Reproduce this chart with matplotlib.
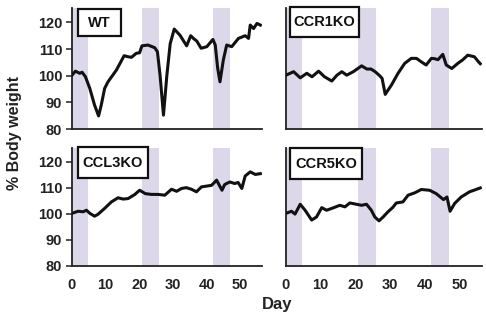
import matplotlib
matplotlib.use("Agg")
import matplotlib.pyplot as plt
from matplotlib.patches import Rectangle

plt.rcParams['font.family'] = ['Liberation Sans', 'DejaVu Sans']
plt.rcParams['font.weight'] = 'bold'

# body weight curves
wt_day = [0, 1, 2.3, 3, 4, 5.3, 6.7, 7.9, 8.7, 9.7, 10.7, 13.2, 15.5, 16.7, 17.7, 19.1,
          20.1, 20.8, 22.6, 24.6, 25.4, 26.2, 27.2, 28.2, 29.2, 30.4, 32.1, 34.1, 35.3,
          36.1, 37.1, 38.4, 40.1, 41.9, 42.6, 43.3, 44, 45, 46, 47.5, 49.5, 51.5, 52.5,
          53, 54, 55, 56]
wt_val = [100.2, 101.7, 100.9, 101.3, 99.6, 95.2, 89, 84.9, 89, 95.2, 97.7, 102.1, 107.5,
          107.1, 106.9, 108.4, 108.6, 111.2, 111.5, 110.5, 109, 100, 85.2, 100, 112, 117.5,
          115.2, 111.2, 115, 114, 113, 110.3, 110.9, 113.6, 111.5, 103, 97.7, 105.9, 111.5,
          110.9, 114, 115, 114, 119, 117.7, 119.6, 119]

ccr1_day = [0, 2.2, 4.1, 6, 7.5, 9.4, 11.1, 13.2, 14.7, 16.1, 17.5, 19.4, 21.8, 23.3, 24.5,
            25.7, 27, 27.7, 28.6, 30.4, 32.3, 34.2, 36.1, 37.6, 39, 40.4, 41.9, 42.8, 43.8,
            45.2, 46.2, 47.8, 49.5, 50.9, 52.4, 54.3, 55.5, 56]
ccr1_val = [100.2, 101.5, 99.2, 100.9, 99.6, 101.7, 99.6, 98, 100.2, 101.5, 100.2, 101.5,
            103.7, 102.5, 102.5, 101.5, 100, 99, 93, 96.5, 100.9, 104.6, 106.5, 106.5, 105.2,
            104, 106.5, 106.4, 106, 108, 104, 102.7, 104.6, 105.9, 107.7, 107.1, 105.2, 104.5]

ccl3_day = [0, 1.8, 3.3, 4.3, 5.3, 6.7, 7.7, 9.7, 11.7, 13.7, 15.2, 16.7, 18.7, 20.1, 21.8,
            23.6, 25.6, 27.6, 29.6, 31.1, 32.6, 34, 35.5, 37, 38.5, 40.5, 41.5, 43, 44.6,
            45.4, 46.9, 48.4, 49.4, 50.5, 51.5, 53, 54.5, 56]
ccl3_val = [100.2, 101, 100.8, 101.4, 100.2, 99.1, 99.8, 102.1, 104.6, 106.2, 105.7, 105.9,
            107.5, 109.1, 107.8, 107.5, 107.5, 107.2, 109.5, 108.7, 109.8, 110.1, 109.5,
            108.5, 110.4, 110.8, 111, 113, 109.1, 111.3, 112.3, 111.7, 112.1, 109.8, 114.6,
            116.2, 115.2, 115.5]

ccr5_day = [0, 1.6, 2.6, 4.1, 5.5, 7.4, 8.8, 10.3, 11.7, 13.6, 15.5, 17, 18.4, 20.3, 21.8,
            23.2, 24.6, 25.6, 26.8, 28, 29.4, 30.8, 31.8, 33.7, 35.2, 37.1, 39, 41.4, 43.3,
            45.4, 46.4, 47.3, 48.6, 50.5, 52.9, 54.8, 56]
ccr5_val = [100.2, 101, 99.9, 103.7, 101.4, 97.6, 98.8, 102.4, 101.4, 102.3, 103.3, 102.7,
            104.2, 103.7, 103.3, 103.7, 101.4, 98.8, 97.3, 98.8, 100.8, 102.5, 104.2, 104.6,
            107.2, 108.1, 109.4, 109.1, 107.8, 105.5, 106.5, 101, 104, 106.5, 108.5, 109.4,
            110]

groups = ['WT', 'CCR1KO', 'CCL3KO', 'CCR5KO']
days = [wt_day, ccr1_day, ccl3_day, ccr5_day]
vals = [wt_val, ccr1_val, ccl3_val, ccr5_val]

# shaded treatment windows (days)
windows = [(0, 4.7), (20.8, 25.9), (41.8, 47)]

W, H = 486, 325
fig = plt.figure(figsize=(W / 100, H / 100), dpi=100)
lefts = [72, 286]
widths = [190, 196]
bottoms = [129, 265.7]   # pixel row of the x axis
tops = [8, 148]

# label boxes: left, top, width, height in pixels
boxes = [(78, 9, 43, 27), (290, 7, 69, 30), (78, 147, 70, 31), (290, 148, 72, 31)]

for i, name in enumerate(groups):
    r, c = divmod(i, 2)
    ax = fig.add_axes([lefts[c] / W, 1 - bottoms[r] / H, widths[c] / W,
                       (bottoms[r] - tops[r]) / H])
    for a, b in windows:
        ax.axvspan(a, b, color='#ddd8e9', lw=0, zorder=0)
    ax.plot(days[i], vals[i], color='#111111', lw=2.2, solid_joinstyle='round', zorder=3)
    ax.set_xlim(0, 56.5)
    ax.set_ylim(80, 125.4)
    ax.set_yticks([80, 90, 100, 110, 120])
    ax.set_xticks([0, 10, 20, 30, 40, 50])
    for s in ['top', 'right']:
        ax.spines[s].set_visible(False)
    for s in ['left', 'bottom']:
        ax.spines[s].set_linewidth(1.3)
        ax.spines[s].set_color('#222222')
    ax.tick_params(axis='y', length=4, width=1.1, labelsize=10.5, colors='#222222', pad=3)
    ax.tick_params(axis='x', length=0, labelsize=10.5, colors='#222222', pad=9)
    if c == 1:
        ax.set_yticklabels([])
        ax.tick_params(axis='y', length=0)
    if r == 0:
        ax.set_xticklabels([])
    for lab in ax.get_xticklabels() + ax.get_yticklabels():
        lab.set_fontweight('bold')

    bx, by, bw, bh = boxes[i]
    fig.add_artist(Rectangle((bx / W, 1 - (by + bh) / H), bw / W, bh / H,
                             transform=fig.transFigure, fc='white', ec='#111111',
                             lw=1.6, zorder=5))
    fig.text((bx + bw / 2) / W, 1 - (by + bh / 2 + 0.5) / H, name, ha='center',
             va='center', fontsize=10.5, fontweight='bold', color='#111111', zorder=6)

fig.text(15 / W, 1 - 133 / H, '% Body weight', rotation=90, ha='center', va='center',
         fontsize=11.5, fontweight='bold', color='#222222')
fig.text(277 / W, 1 - 305 / H, 'Day', ha='center', va='center',
         fontsize=12, fontweight='bold', color='#222222')

fig.savefig('out.png', dpi=100)
